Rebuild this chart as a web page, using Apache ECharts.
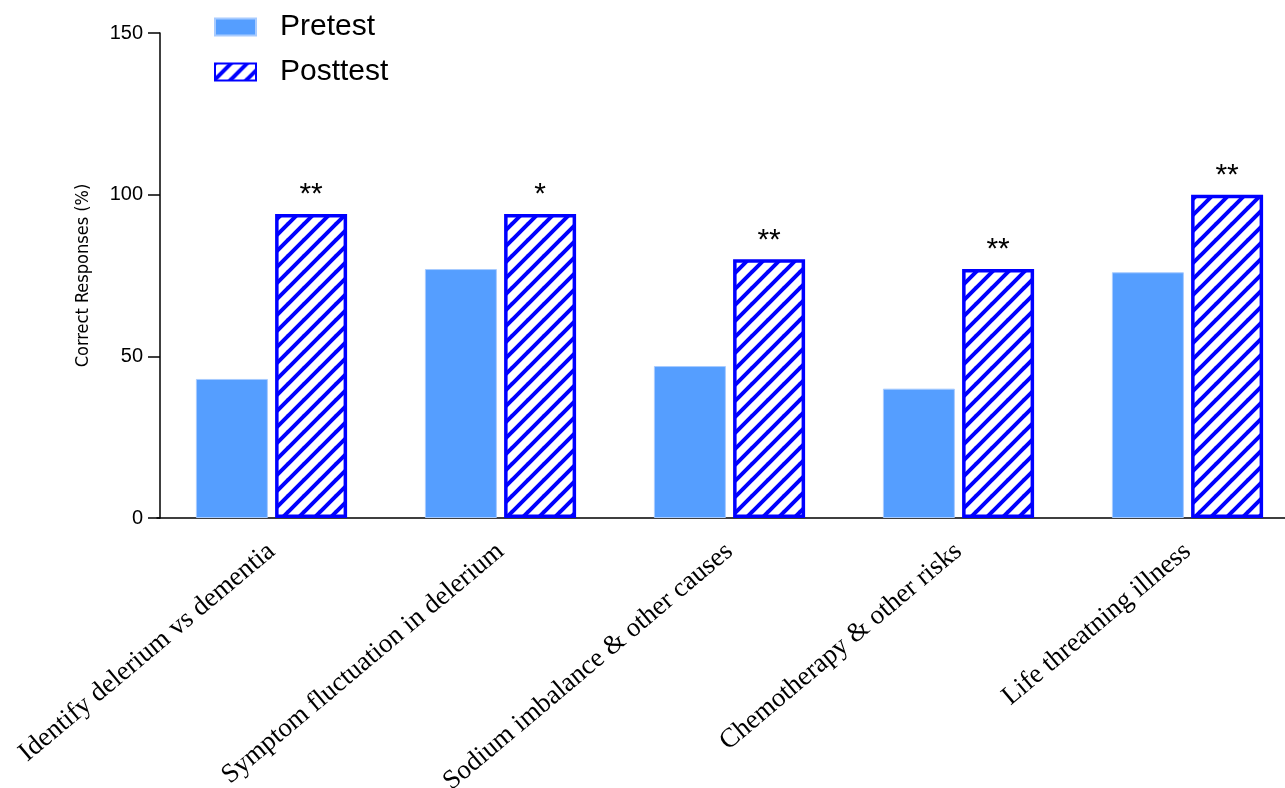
<!DOCTYPE html>
<html>
<head>
<meta charset="utf-8">
<script src="https://cdn.jsdelivr.net/npm/echarts@6/dist/echarts.min.js"></script>
<style>
html,body{margin:0;padding:0;background:#fff;}
#chart{width:1285px;height:788px;}
</style>
</head>
<body>
<div id="chart"></div>
<script>
const categories = [
  'Identify delerium vs dementia',
  'Symptom fluctuation in delerium',
  'Sodium imbalance & other causes',
  'Chemotherapy & other risks',
  'Life threatning illness'
];
const pretest = [43, 77, 47, 40, 76];
const posttest = [94, 94, 80, 77, 100];
const significance = ['**', '*', '**', '**', '**'];
const yTicks = { min: 0, max: 150, interval: 50 };

function makeHatch() {
  const s = 16;
  const c = document.createElement('canvas');
  c.width = s; c.height = s;
  const g = c.getContext('2d');
  g.fillStyle = '#ffffff';
  g.fillRect(0, 0, s, s);
  g.strokeStyle = '#0000ff';
  g.lineWidth = 4;
  g.lineCap = 'square';
  for (const o of [-s, 0, s]) {
    g.beginPath();
    g.moveTo(o, s);
    g.lineTo(o + s, 0);
    g.stroke();
  }
  return c;
}

const chart = echarts.init(document.getElementById('chart'));
chart.setOption({
  backgroundColor: '#ffffff',
  animation: false,
  grid: { left: 157, top: 33, bottom: 270, right: -17, containLabel: false, outerBoundsMode: 'none' },
  legend: {
    orient: 'vertical',
    left: 214,
    top: 12,
    padding: 0,
    itemWidth: 41,
    itemHeight: 17,
    itemGap: 15,
    icon: 'rect',
    textStyle: { fontFamily: 'Liberation Sans', fontSize: 30, color: '#000', padding: [0, 0, 0, 19] },
    data: ['Pretest', 'Posttest']
  },
  xAxis: {
    type: 'category',
    data: categories,
    axisLine: { lineStyle: { color: '#000', width: 1.5 } },
    axisTick: { alignWithLabel: true, length: 12, lineStyle: { color: '#000', width: 1.5 } },
    axisLabel: { rotate: 40, interval: 0, margin: 30, fontFamily: 'Liberation Serif', fontSize: 27, color: '#000' }
  },
  yAxis: {
    type: 'value',
    min: yTicks.min, max: yTicks.max, interval: yTicks.interval,
    offset: -3,
    splitLine: { show: false },
    axisLine: { show: true, lineStyle: { color: '#000', width: 1.5 } },
    axisTick: { show: true, length: 12, lineStyle: { color: '#000', width: 1.5 } },
    axisLabel: { fontFamily: 'Liberation Sans', fontSize: 20, color: '#000', margin: 17 },
    name: 'Correct Responses (%)',
    nameLocation: 'middle',
    nameRotate: 90,
    nameGap: 68,
    nameTextStyle: { fontFamily: "'Liberation Sans Narrow', 'DejaVu Sans Condensed', 'Liberation Sans', sans-serif", fontSize: 18, color: '#000' }
  },
  series: [
    {
      name: 'Pretest',
      type: 'bar',
      data: pretest,
      barWidth: 72,
      barGap: '10%',
      itemStyle: { color: '#559eff', borderColor: '#a8cbff', borderWidth: 1 }
    },
    {
      name: 'Posttest',
      type: 'bar',
      data: posttest,
      barWidth: 72,
      barGap: '10%',
      itemStyle: { color: { image: makeHatch(), repeat: 'repeat' }, borderColor: '#0000ff', borderWidth: 3.5 },
      label: {
        show: true,
        position: 'top',
        distance: 4,
        fontFamily: 'Liberation Sans',
        fontSize: 30,
        color: '#000',
        formatter: p => significance[p.dataIndex]
      }
    }
  ]
});
</script>
</body>
</html>
